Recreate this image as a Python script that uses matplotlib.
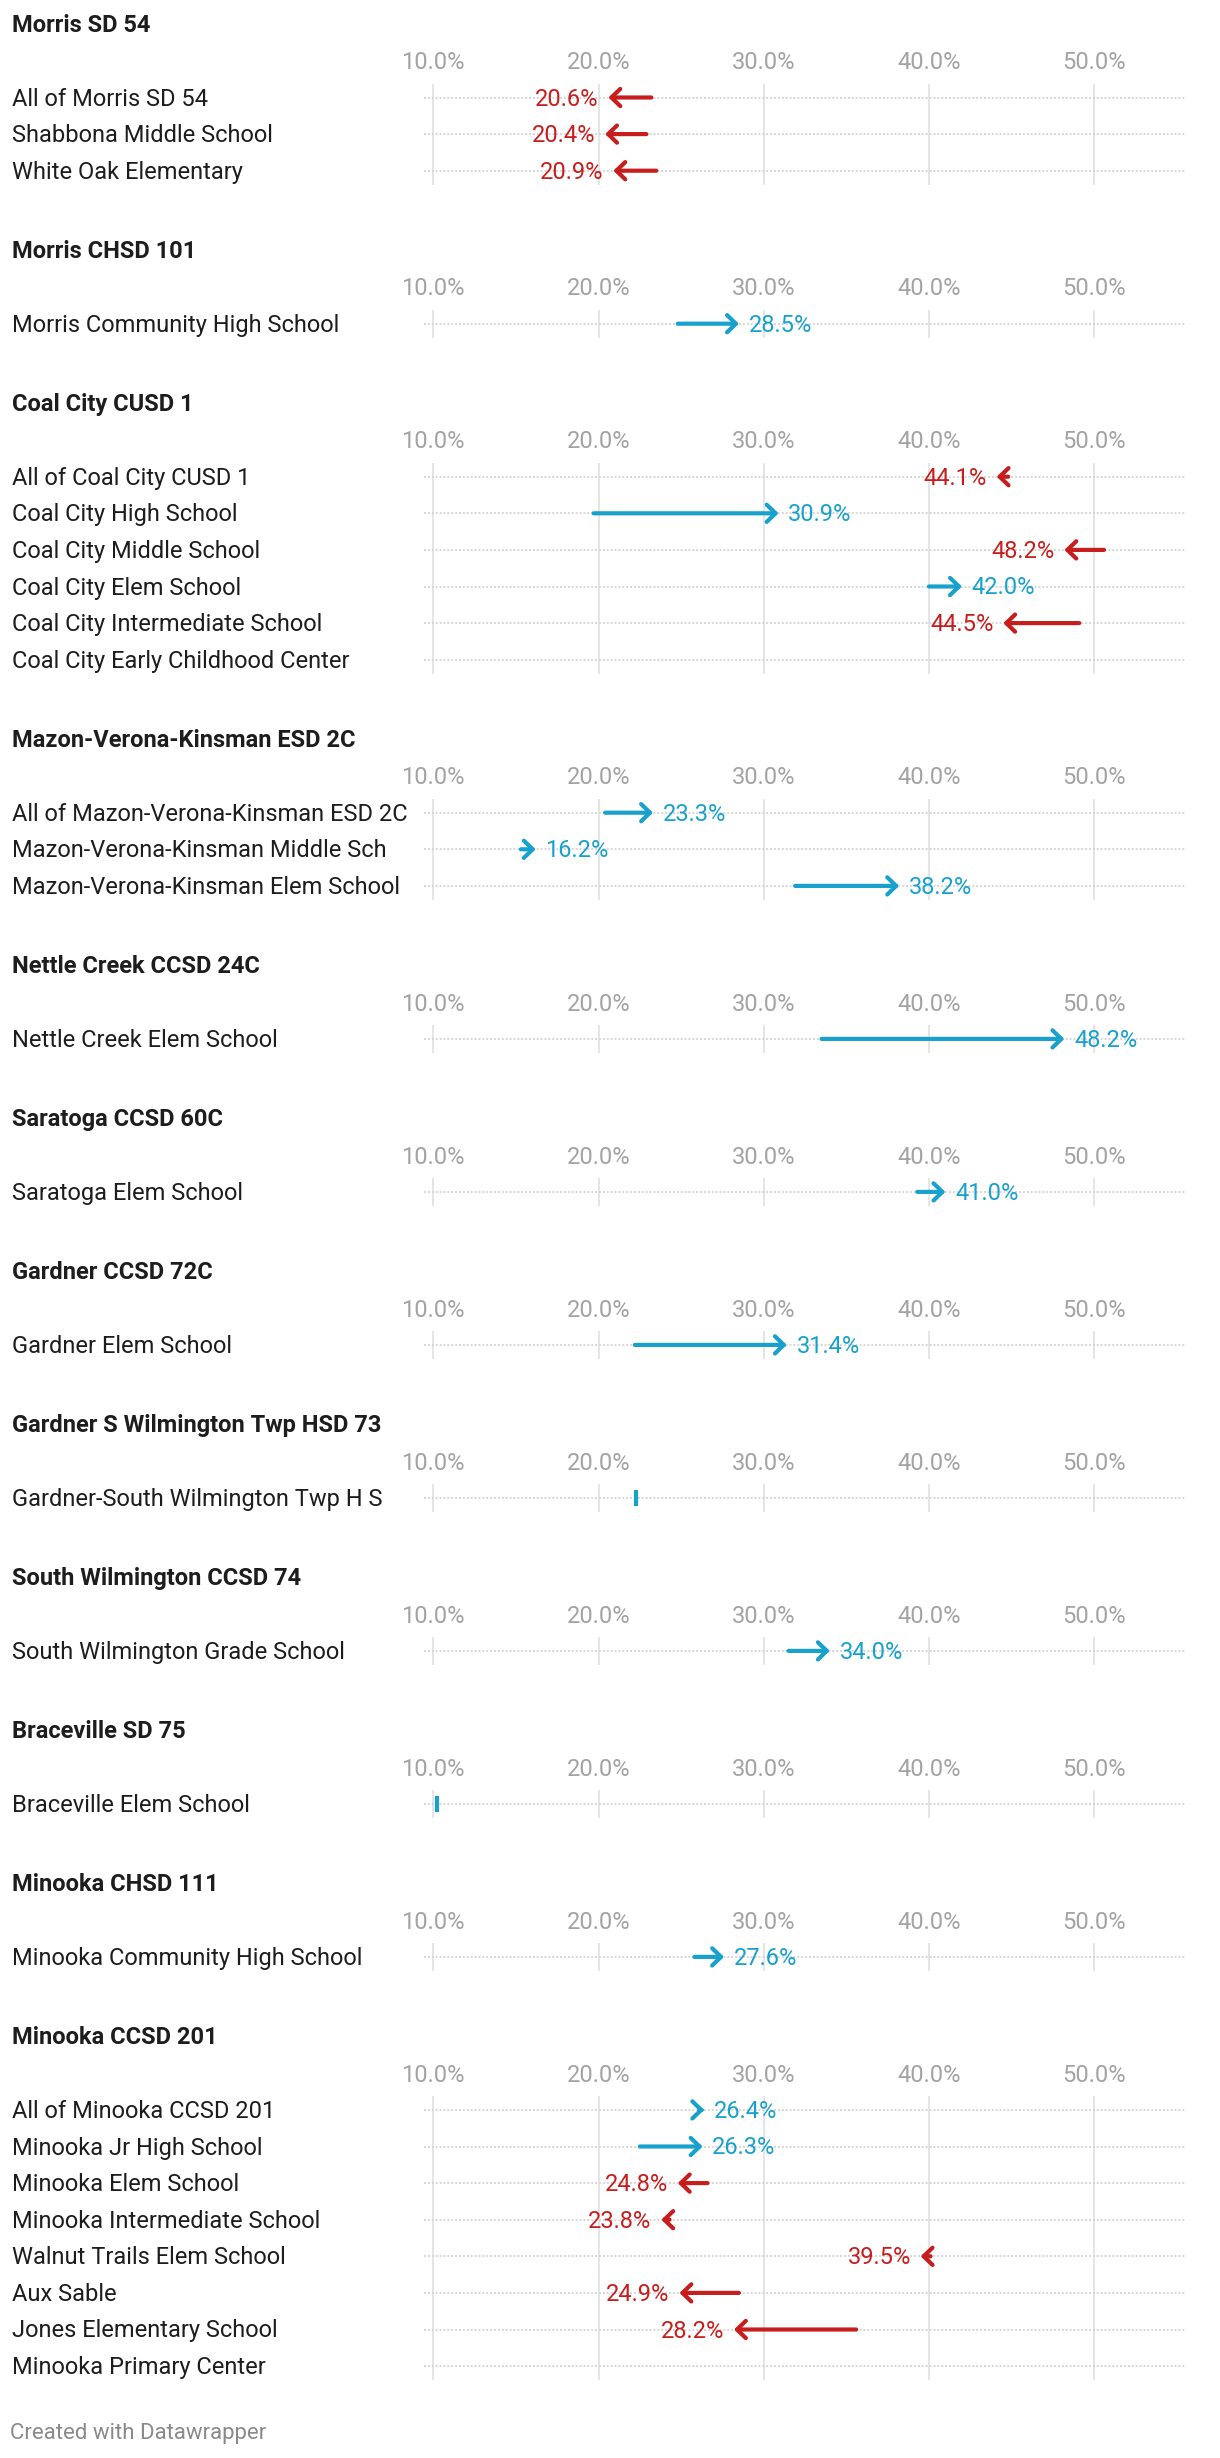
import matplotlib
matplotlib.use("Agg")
import matplotlib.pyplot as plt
from matplotlib.transforms import blended_transform_factory, offset_copy
import numpy as np

plt.rcParams['font.family'] = ['Roboto', 'DejaVu Sans']

# ---------------- data ----------------
group_names = [
    "Morris SD 54",
    "Morris CHSD 101",
    "Coal City CUSD 1",
    "Mazon-Verona-Kinsman ESD 2C",
    "Nettle Creek CCSD 24C",
    "Saratoga CCSD 60C",
    "Gardner CCSD 72C",
    "Gardner S Wilmington Twp HSD 73",
    "South Wilmington CCSD 74",
    "Braceville SD 75",
    "Minooka CHSD 111",
    "Minooka CCSD 201",
]

row_group = [0, 0, 0,
             1,
             2, 2, 2, 2, 2, 2,
             3, 3, 3,
             4,
             5,
             6,
             7,
             8,
             9,
             10,
             11, 11, 11, 11, 11, 11, 11, 11]

row_label = [
    "All of Morris SD 54", "Shabbona Middle School", "White Oak Elementary",
    "Morris Community High School",
    "All of Coal City CUSD 1", "Coal City High School", "Coal City Middle School",
    "Coal City Elem School", "Coal City Intermediate School", "Coal City Early Childhood Center",
    "All of Mazon-Verona-Kinsman ESD 2C", "Mazon-Verona-Kinsman Middle Sch",
    "Mazon-Verona-Kinsman Elem School",
    "Nettle Creek Elem School",
    "Saratoga Elem School",
    "Gardner Elem School",
    "Gardner-South Wilmington Twp H S",
    "South Wilmington Grade School",
    "Braceville Elem School",
    "Minooka Community High School",
    "All of Minooka CCSD 201", "Minooka Jr High School", "Minooka Elem School",
    "Minooka Intermediate School", "Walnut Trails Elem School", "Aux Sable",
    "Jones Elementary School", "Minooka Primary Center",
]

nan = np.nan
start_pct = [23.2, 22.9, 23.5,
             24.8,
             44.8, 19.7, 50.6, 40.0, 49.1, nan,
             20.4, 15.3, 31.9,
             33.5,
             39.3,
             22.2,
             22.3,
             31.5,
             10.2,
             25.8,
             26.1, 22.5, 26.6, 24.3, 40.1, 28.5, 35.6, nan]

end_pct = [20.6, 20.4, 20.9,
           28.5,
           44.1, 30.9, 48.2, 42.0, 44.5, nan,
           23.3, 16.2, 38.2,
           48.2,
           41.0,
           31.4,
           22.3,
           34.0,
           10.2,
           27.6,
           26.4, 26.3, 24.8, 23.8, 39.5, 24.9, 28.2, nan]

x_ticks = [10, 20, 30, 40, 50]
x_tick_labels = ["10.0%", "20.0%", "30.0%", "40.0%", "50.0%"]

footer_text = "Created with Datawrapper"

# ---------------- style / layout ----------------
W, H = 1220, 2458
RED = "#c71e1d"
BLUE = "#18a1cd"
TXT = "#1d1d1d"
TICK_C = "#a3a3a3"
GRID_C = "#e5e5e5"
DOT_C = "#d6d6d6"
FS = 17

px10 = 433.3          # pixel of 10 %
px_per = 16.52        # pixels per percentage point
ax_left_px, ax_right_px = 424, 1185
xmin = 10 + (ax_left_px - px10) / px_per
xmax = 10 + (ax_right_px - px10) / px_per

title_first = 24.0
row_gap = 36.6
title_to_row = 73.5
row_to_next = 79.5
pad_top = 13.5
pad_bot = 14.0
label_x_px = 12
text_shift_px = 1.5   # text sits slightly below row centre

fig = plt.figure(figsize=(W / 100, H / 100), dpi=100)
fig.patch.set_facecolor("white")

row_group = np.array(row_group)
T = title_first
for g, gname in enumerate(group_names):
    idx = np.where(row_group == g)[0]
    n = len(idx)
    first_row = T + title_to_row
    last_row = first_row + (n - 1) * row_gap
    top_px = first_row - pad_top
    bot_px = last_row + pad_bot

    fig.text(label_x_px / W, 1 - (T + text_shift_px) / H, gname, fontsize=FS,
             fontweight="bold", color=TXT, ha="left", va="center")

    ax = fig.add_axes([ax_left_px / W, 1 - bot_px / H,
                       (ax_right_px - ax_left_px) / W, (bot_px - top_px) / H])
    ax.set_xlim(xmin, xmax)
    ax.set_ylim(n - 1 + pad_bot / row_gap, -pad_top / row_gap)
    for s in ax.spines.values():
        s.set_visible(False)
    ax.set_yticks([])
    ax.xaxis.tick_top()
    ax.set_xticks(x_ticks)
    ax.set_xticklabels(x_tick_labels)
    ax.tick_params(axis="x", length=0, pad=7, labelsize=FS, labelcolor=TICK_C)
    ax.grid(axis="x", color=GRID_C, lw=1.4, zorder=0)
    ax.set_axisbelow(True)
    ax.patch.set_alpha(0)

    trans_lbl = offset_copy(blended_transform_factory(fig.transFigure, ax.transData),
                            fig=fig, x=0, y=-text_shift_px * 0.72, units="points")
    for j, i in enumerate(idx):
        ax.axhline(j, color=DOT_C, lw=1.4, ls=(0, (1, 1)), zorder=1)
        ax.text(label_x_px / W, j, row_label[i], transform=trans_lbl,
                fontsize=FS, color=TXT, ha="left", va="center")
        s, e = start_pct[i], end_pct[i]
        if np.isnan(s) or np.isnan(e):
            continue
        if abs(e - s) < 1e-9:
            ax.plot([e], [j], marker="|", markersize=11, mew=3, color=BLUE,
                    zorder=3)
            continue
        col = BLUE if e > s else RED
        ax.annotate("", xy=(e, j), xytext=(s, j),
                    arrowprops=dict(arrowstyle="->,head_length=0.64,head_width=0.62",
                                    mutation_scale=10, lw=3.0, color=col,
                                    shrinkA=0, shrinkB=0, capstyle="round",
                                    joinstyle="round"),
                    zorder=3)
        dx = 7 if e > s else -7
        ax.annotate(f"{e:.1f}%", xy=(e, j), xytext=(dx, -text_shift_px * 0.72),
                    textcoords="offset points",
                    ha="left" if e > s else "right", va="center",
                    fontsize=FS, color=col, zorder=4)

    T = last_row + row_to_next

fig.text(10 / W, 1 - 2434 / H, footer_text, fontsize=16, color="#8a8a8a",
         ha="left", va="center")

fig.savefig("out.png", dpi=100, facecolor="white")
